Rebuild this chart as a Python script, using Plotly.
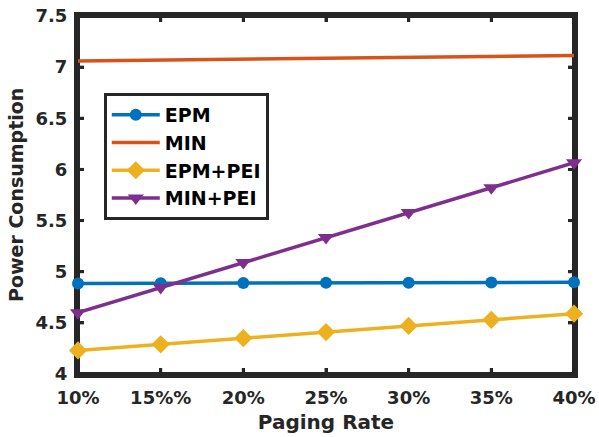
import plotly.graph_objects as go

x_vals = [10, 15, 20, 25, 30, 35, 40]
x_labels = ["10%", "15%%", "20%", "25%", "30%", "35%", "40%"]
epm = [4.885, 4.887, 4.889, 4.891, 4.893, 4.895, 4.897]
mn = [7.060, 7.068, 7.077, 7.086, 7.095, 7.104, 7.113]
epm_pei = [4.23, 4.29, 4.35, 4.41, 4.47, 4.53, 4.59]
min_pei = [4.60, 4.845, 5.09, 5.335, 5.58, 5.82, 6.065]
y_ticks = [4, 4.5, 5, 5.5, 6, 6.5, 7, 7.5]
y_labels = ["4", "4.5", "5", "5.5", "6", "6.5", "7", "7.5"]

FONT = "DejaVu Sans"
DARK = "#262626"
LW = 3.5

fig = go.Figure()
fig.add_trace(go.Scatter(x=x_vals, y=epm, name="EPM", mode="lines+markers",
                         line=dict(color="#0072BD", width=LW),
                         marker=dict(symbol="circle", size=12, color="#0072BD")))
fig.add_trace(go.Scatter(x=x_vals, y=mn, name="MIN", mode="lines",
                         line=dict(color="#D95319", width=LW)))
fig.add_trace(go.Scatter(x=x_vals, y=epm_pei, name="EPM+PEI", mode="lines+markers",
                         line=dict(color="#EDB120", width=LW),
                         marker=dict(symbol="diamond", size=14, color="#EDB120")))
fig.add_trace(go.Scatter(x=x_vals, y=min_pei, name="MIN+PEI", mode="lines+markers",
                         line=dict(color="#7E2F8E", width=LW),
                         marker=dict(symbol="triangle-down", size=14, color="#7E2F8E")))
for tr in fig.data:
    tr.name = f"<b>{tr.name}</b>"
    tr.cliponaxis = False

xaxis = dict(showgrid=False, zeroline=False, showline=True, mirror="ticks",
             linecolor=DARK, linewidth=4, ticks="inside", ticklen=6,
             tickwidth=3, tickcolor=DARK, automargin=False, layer="below traces",
             range=[10, 40], tickvals=x_vals, ticktext=[f"<b>{t}</b>" for t in x_labels],
             ticklabelstandoff=4,
             tickfont=dict(family=FONT, size=18, color=DARK),
             title=dict(text="<b>Paging Rate</b>", font=dict(family=FONT, size=20, color=DARK), standoff=9))
yaxis = dict(showgrid=False, zeroline=False, showline=True, mirror="ticks",
             linecolor=DARK, linewidth=4, ticks="inside", ticklen=6,
             tickwidth=3, tickcolor=DARK, automargin=False, layer="below traces",
             range=[4, 7.5], tickvals=y_ticks, ticktext=[f"<b>{t}</b>" for t in y_labels],
             ticklabelstandoff=3,
             tickfont=dict(family=FONT, size=18, color=DARK))

# axes frame and ticks as shapes (robust rendering), drawn beneath the data like MATLAB
shapes = [dict(type="rect", xref="paper", yref="paper", x0=0, x1=1, y0=0, y1=1,
               line=dict(color=DARK, width=4), layer="below")]
tick_frac_y = 6 / 358
tick_frac_x = 6 / 496
for xv in x_vals:
    shapes.append(dict(type="line", xref="x", yref="paper", x0=xv, x1=xv, y0=0, y1=tick_frac_y,
                       line=dict(color=DARK, width=3), layer="below"))
    shapes.append(dict(type="line", xref="x", yref="paper", x0=xv, x1=xv, y0=1 - tick_frac_y, y1=1,
                       line=dict(color=DARK, width=3), layer="below"))
for yv in y_ticks:
    shapes.append(dict(type="line", xref="paper", yref="y", x0=0, x1=tick_frac_x, y0=yv, y1=yv,
                       line=dict(color=DARK, width=3), layer="below"))
    shapes.append(dict(type="line", xref="paper", yref="y", x0=1 - tick_frac_x, x1=1, y0=yv, y1=yv,
                       line=dict(color=DARK, width=3), layer="below"))

fig.update_layout(
    width=599, height=437,
    margin=dict(l=78, r=25, t=16, b=63),
    paper_bgcolor="white", plot_bgcolor="white",
    font=dict(family=FONT, color=DARK),
    xaxis=xaxis, yaxis=yaxis,
    shapes=shapes,
    annotations=[dict(text="<b>Power Consumption</b>", textangle=-90, xref="paper", yref="paper",
                      x=0, y=0.5, xanchor="center", yanchor="middle", xshift=-62, showarrow=False,
                      font=dict(family=FONT, size=19, color=DARK))],
    legend=dict(x=0.052, y=0.6075, xanchor="left", yanchor="middle",
                bgcolor="white", bordercolor=DARK, borderwidth=3,
                font=dict(family=FONT, size=19, color="black"),
                tracegroupgap=0, itemwidth=48),
    showlegend=True,
)

fig.write_html("out.html", config={"displayModeBar": False},
               post_script="document.body.style.margin='0';")
